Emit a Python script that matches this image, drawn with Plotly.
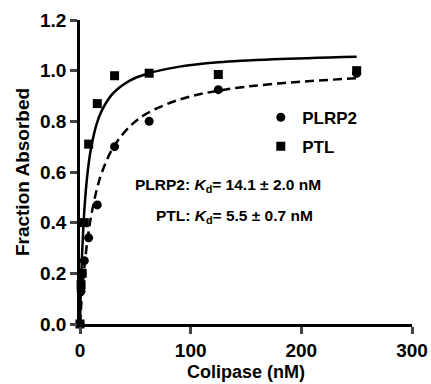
import plotly.graph_objects as go

conc = [0, 0.98, 1.95, 3.9, 7.8, 15.6, 31.25, 62.5, 125, 250]
plrp2 = [0.0, 0.13, 0.20, 0.25, 0.34, 0.47, 0.70, 0.80, 0.925, 0.99]
ptl = [0.0, 0.155, 0.20, 0.40, 0.71, 0.87, 0.98, 0.99, 0.985, 1.0]

# Fitted curves
fit_x = [0, 0.5, 1, 2, 3, 4, 6, 8, 10, 15, 20, 30, 45, 60, 90, 125, 175, 250]
fit_ptl = [0, 0.090, 0.166, 0.287, 0.380, 0.454, 0.562, 0.639, 0.695, 0.789,
           0.845, 0.911, 0.961, 0.987, 1.016, 1.033, 1.045, 1.055]
fit_plrp2 = [0, 0.035, 0.068, 0.127, 0.180, 0.227, 0.306, 0.371, 0.425, 0.528,
             0.601, 0.697, 0.780, 0.830, 0.886, 0.921, 0.948, 0.970]

x_ticks = [0, 100, 200, 300]
y_ticks = [0.0, 0.2, 0.4, 0.6, 0.8, 1.0, 1.2]
y_tick_text = ["0.0", "0.2", "0.4", "0.6", "0.8", "1.0", "1.2"]

FONT = "Arial, Liberation Sans, Helvetica, sans-serif"

fig = go.Figure()
fig.add_trace(go.Scatter(x=fit_x, y=fit_ptl, mode="lines",
                         line=dict(color="black", width=2.5, shape="spline"),
                         showlegend=False, hoverinfo="skip", cliponaxis=False))
fig.add_trace(go.Scatter(x=fit_x, y=fit_plrp2, mode="lines",
                         line=dict(color="black", width=2.5, dash="9px,5px", shape="spline"),
                         showlegend=False, hoverinfo="skip", cliponaxis=False))
fig.add_trace(go.Scatter(x=conc, y=plrp2, mode="markers", name="PLRP2", legendgroup="a",
                         marker=dict(symbol="circle", size=9, color="black"), cliponaxis=False))
fig.add_trace(go.Scatter(x=conc, y=ptl, mode="markers", name="PTL", legendgroup="b",
                         marker=dict(symbol="square", size=9, color="black"), cliponaxis=False))

fig.update_layout(
    width=431, height=384,
    margin=dict(l=80, r=19, t=20, b=60),
    paper_bgcolor="white", plot_bgcolor="white",
    font=dict(family=FONT, color="black"),
    legend=dict(x=0.54, y=0.738, xanchor="left", yanchor="top",
                font=dict(size=17, weight="bold", family=FONT),
                bgcolor="rgba(0,0,0,0)", tracegroupgap=4, itemwidth=33),
    annotations=[
        dict(x=0.446, y=0.457, xref="paper", yref="paper", showarrow=False, xanchor="center",
             yanchor="middle",
             text="<b>PLRP2: <i>K</i><sub>d</sub>= 14.1 ± 2.0 nM</b>",
             font=dict(size=15.5, family=FONT)),
        dict(x=0.464, y=0.352, xref="paper", yref="paper", showarrow=False, xanchor="center",
             yanchor="middle",
             text="<b>PTL: <i>K</i><sub>d</sub>= 5.5 ± 0.7 nM</b>",
             font=dict(size=15.5, family=FONT)),
    ],
)
fig.update_xaxes(range=[0, 300], tickvals=x_ticks, ticks="outside", ticklen=7, tickwidth=2.5,
                 showline=True, linewidth=2.5, linecolor="black", showgrid=False, zeroline=False,
                 automargin=False,
                 tickfont=dict(size=19, weight="bold", family=FONT),
                 title=dict(text="Colipase (nM)", font=dict(size=18, weight="bold", family=FONT), standoff=6))
fig.update_yaxes(range=[0, 1.2], tickvals=y_ticks, ticktext=y_tick_text, ticks="outside", ticklen=7, tickwidth=2.5,
                 showline=True, linewidth=2.5, linecolor="black", showgrid=False, zeroline=False,
                 automargin=False,
                 tickfont=dict(size=19, weight="bold", family=FONT),
                 title=dict(text="Fraction Absorbed", font=dict(size=19, weight="bold", family=FONT), standoff=6))

fig.write_html("out.html", config={"displayModeBar": False},
               post_script="document.body.style.margin='0';")
